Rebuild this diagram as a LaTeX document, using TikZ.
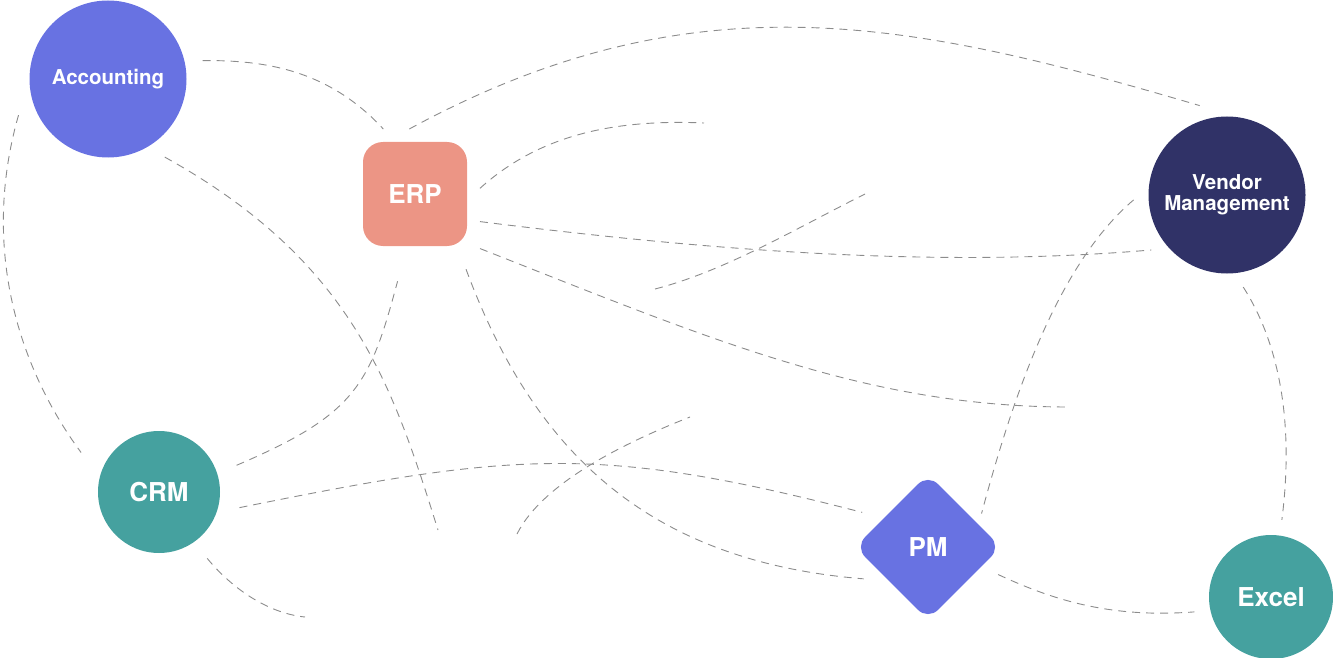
\documentclass[tikz,border=0pt]{standalone}
\usepackage{fontspec}
\setmainfont{TeX Gyre Heros}
\usetikzlibrary{shapes.geometric}
\definecolor{lila}{HTML}{6872E2}
\definecolor{lachs}{HTML}{EC9585}
\definecolor{marine}{HTML}{303267}
\definecolor{petrol}{HTML}{45A19F}
\definecolor{strich}{HTML}{8C8C8C}
\begin{document}
\begin{tikzpicture}[x=1pt,y=-1pt,
    link/.style={draw=strich,line width=0.9pt,dash pattern=on 8pt off 6pt},
    bubble/.style={circle,inner sep=0pt,text=white,font=\fontsize{26}{28}\selectfont\bfseries},
    smalltext/.style={font=\fontsize{20.5}{21}\selectfont\bfseries},
    tile/.style={rectangle,rounded corners=20pt,minimum size=104pt,inner sep=0pt,fill=lachs,
        outer sep=13pt,text=white,font=\fontsize{26}{28}\selectfont\bfseries},
    gem/.style={diamond,aspect=1,rounded corners=14pt,minimum size=154pt,inner sep=0pt,fill=lila,
        outer sep=10pt,text=white,font=\fontsize{26}{28}\selectfont\bfseries}]
    \useasboundingbox (0,0) rectangle (1333,658);

    % 绘制节点
    \node[bubble,smalltext,fill=lila,minimum size=157pt,outer sep=18pt] (acc) at (108,79) {Accounting};
    \node[tile] (erp) at (415,194) {ERP};
    \node[bubble,smalltext,fill=marine,minimum size=157pt,outer sep=15pt,align=center] (vm) at (1227,195) {Vendor\\Management};
    \node[bubble,fill=petrol,minimum size=122pt,outer sep=21pt] (crm) at (159,492) {CRM};
    \node[gem] (pm) at (928,547) {PM};
    \node[bubble,fill=petrol,minimum size=124pt,outer sep=16pt] (excel) at (1271,597) {Excel};

    % 自由端点
    \coordinate (end1) at (438,530);
    \coordinate (end2) at (704,123);
    \coordinate (end3a) at (655,289);
    \coordinate (end3b) at (865,194);
    \coordinate (end4) at (1069,407);
    \coordinate (end5a) at (517,534);
    \coordinate (end5b) at (690,417);
    \coordinate (end6) at (305,617);

    % 绘制连线
    \draw[link] (acc.11) .. controls (263,60) and (328,69) .. (erp.116);
    \draw[link] (erp.95) .. controls (696,-27) and (915,22) .. (vm.107);
    \draw[link,shorten >=6pt] (acc.202) .. controls (-20,250) and (20,370) .. (crm.155);
    \draw[link] (acc.-54) .. controls (354,262) and (393,387) .. (end1);
    \draw[link] (erp.5) .. controls (539,135) and (614,119) .. (end2);
    \draw[link] (erp.-23) .. controls (698,249) and (930,269) .. (vm.216);
    \draw[link] (end3a) .. controls (725,271) and (795,229) .. (end3b);
    \draw[link] (erp.-40) .. controls (712,340) and (869,407) .. (end4);
    \draw[link,shorten >=23pt] (crm.19) .. controls (357,414) and (370,384) .. (erp.260);
    \draw[link,shorten <=11pt,shorten >=10pt] (erp.-54) .. controls (532,447) and (643,561) .. (pm.211);
    \draw[link,shorten >=11pt] (crm.-11) .. controls (514,452) and (599,444) .. (pm.150);
    \draw[link] (end5a) .. controls (544,480) and (634,439) .. (end5b);
    \draw[link] (crm.-54) .. controls (229,585) and (265,613) .. (end6);
    \draw[link] (vm.183) .. controls (1058,264) and (1013,396) .. (pm.32);
    \draw[link] (vm.-80) .. controls (1286,354) and (1292,441) .. (excel.82);
    \draw[link,shorten <=8pt] (pm.-21) .. controls (1057,602) and (1114,618) .. (excel.191);
\end{tikzpicture}
\end{document}
